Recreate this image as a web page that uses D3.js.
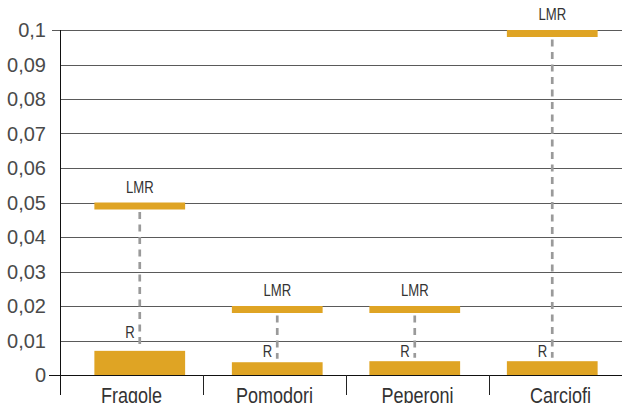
<!DOCTYPE html>
<html>
<head>
<meta charset="utf-8">
<script src="https://cdn.jsdelivr.net/npm/d3@7"></script>
<style>
	body { margin: 0; background: #fff; }
	svg { display: block; }
	.ylab { font-family: "Liberation Sans", Arial, sans-serif; font-size: 20px; fill: #4a4a4a; }
	.xlab { font-family: "Liberation Sans", Arial, sans-serif; font-size: 22px; fill: #333; }
	.mark { font-family: "Liberation Sans", Arial, sans-serif; font-size: 16px; fill: #333; }
</style>
</head>
<body>
<script>
//chart data
var categories = ["Fragole", "Pomodori", "Peperoni", "Carciofi"];
var residui = [0.007, 0.0037, 0.004, 0.004];        //R
var limiti = [0.05, 0.02, 0.02, 0.1];               //LMR
var rLabelAt = [0.0107, 0.0053, 0.0053, 0.0053];    //where the R label sits
var yTicks = [0, 0.01, 0.02, 0.03, 0.04, 0.05, 0.06, 0.07, 0.08, 0.09, 0.1];

window.onload = drawChart();

function drawChart(){
	var width = 622,
		height = 403,
		narrow = 0.82; //condensed look of the original font

	var svg = d3.select("body")
		.append("svg")
		.attr("width", width)
		.attr("height", height);

	//scales
	var y = d3.scaleLinear()
		.domain([0, 0.1])
		.range([375, 30]);

	//axis bands and bar bands are a bit offset in the original
	var xAxisScale = d3.scaleBand()
		.domain(categories)
		.range([60, 632]);

	var xBar = d3.scaleBand()
		.domain(categories)
		.range([71, 621])
		.paddingInner(0.34)
		.paddingOuter(0.17);

	var fmt = function(d){ return String(d).replace(".", ","); };
	var mid = function(d){ return xBar(d.cat) + xBar.bandwidth() / 2; };

	//gridlines
	svg.selectAll(".grid")
		.data(yTicks)
		.enter()
		.append("line")
		.attr("class", "grid")
		.attr("x1", function(d){ return d === 0 ? 49 : (d === 0.1 ? 52 : 60); })
		.attr("x2", width)
		.attr("y1", function(d){ return Math.round(y(d)) + 0.5; })
		.attr("y2", function(d){ return Math.round(y(d)) + 0.5; })
		.attr("stroke", function(d){ return d === 0 ? "#111" : "#5a5a5a"; })
		.attr("stroke-width", 1);

	//y labels
	svg.selectAll(".ylab")
		.data(yTicks)
		.enter()
		.append("text")
		.attr("class", "ylab")
		.attr("x", 46)
		.attr("y", function(d){ return y(d); })
		.attr("dy", "0.36em")
		.attr("text-anchor", "end")
		.text(fmt);

	//y axis line
	svg.append("line")
		.attr("x1", 60.5).attr("x2", 60.5)
		.attr("y1", Math.round(y(0.1)))
		.attr("y2", 395)
		.attr("stroke", "#111");

	//x ticks between categories
	svg.selectAll(".xtick")
		.data(categories.slice(1))
		.enter()
		.append("line")
		.attr("class", "xtick")
		.attr("x1", function(d){ return Math.round(xAxisScale(d)) + 0.5; })
		.attr("x2", function(d){ return Math.round(xAxisScale(d)) + 0.5; })
		.attr("y1", Math.round(y(0)))
		.attr("y2", 395)
		.attr("stroke", "#222");

	//category labels
	svg.selectAll(".xlab")
		.data(categories)
		.enter()
		.append("text")
		.attr("class", "xlab")
		.attr("transform", function(d){
			return "translate(" + (xAxisScale(d) + xAxisScale.bandwidth() / 2) + ",403) scale(" + narrow + ",1)";
		})
		.attr("text-anchor", "middle")
		.text(function(d){ return d; });

	var items = categories.map(function(c, i){
		return {cat: c, r: residui[i], lmr: limiti[i], rl: rLabelAt[i]};
	});

	//dashed connectors
	svg.selectAll(".conn")
		.data(items)
		.enter()
		.append("line")
		.attr("class", "conn")
		.attr("x1", mid)
		.attr("x2", mid)
		.attr("y1", function(d){ return y(d.lmr) + 9.5; })
		.attr("y2", function(d){ return y(d.r) - 3.5; })
		.attr("stroke", "#9a9a9a")
		.attr("stroke-width", 2.7)
		.attr("stroke-dasharray", "7,5.5");

	//R bars
	svg.selectAll(".rbar")
		.data(items)
		.enter()
		.append("rect")
		.attr("class", "rbar")
		.attr("x", function(d){ return xBar(d.cat); })
		.attr("width", xBar.bandwidth())
		.attr("y", function(d){ return y(d.r); })
		.attr("height", function(d){ return y(0) - y(d.r); })
		.attr("fill", "#dfa424");

	//LMR bars
	svg.selectAll(".lbar")
		.data(items)
		.enter()
		.append("rect")
		.attr("class", "lbar")
		.attr("x", function(d){ return xBar(d.cat); })
		.attr("width", xBar.bandwidth())
		.attr("y", function(d){ return y(d.lmr); })
		.attr("height", 7)
		.attr("fill", "#dfa424");

	//LMR labels
	svg.selectAll(".lmrlab")
		.data(items)
		.enter()
		.append("text")
		.attr("class", "mark")
		.attr("transform", function(d){
			return "translate(" + mid(d) + "," + (y(d.lmr) - 10) + ") scale(" + narrow + ",1)";
		})
		.attr("text-anchor", "middle")
		.text("LMR");

	//R labels
	svg.selectAll(".rlab")
		.data(items)
		.enter()
		.append("text")
		.attr("class", "mark")
		.attr("transform", function(d){
			return "translate(" + (mid(d) - 5) + "," + y(d.rl) + ") scale(" + narrow + ",1)";
		})
		.attr("text-anchor", "end")
		.text("R");
}
</script>
</body>
</html>
